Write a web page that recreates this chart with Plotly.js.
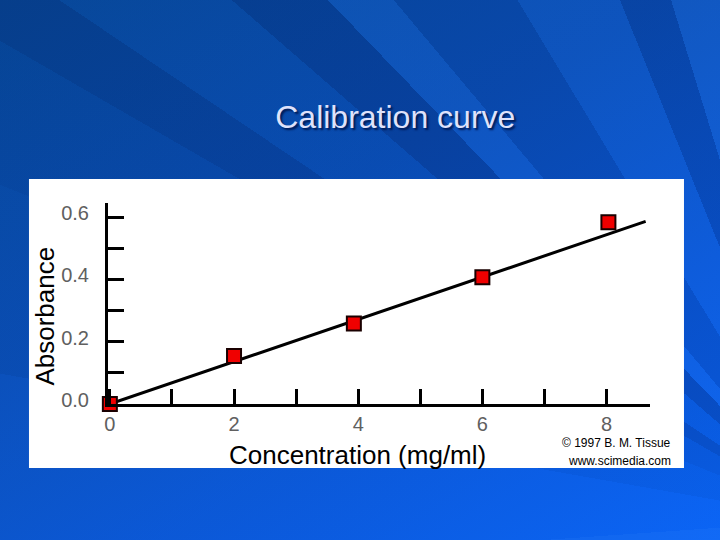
<!DOCTYPE html>
<html>
<head>
<meta charset="utf-8">
<script src="https://cdn.plot.ly/plotly-3.0.1.min.js"></script>
<style>
  html, body { margin: 0; padding: 0; }
  body {
    width: 720px; height: 540px; overflow: hidden;
    background:
      conic-gradient(at 830px 520px,
        rgba(0,0,0,0) 0deg 255deg,
        rgba(60,140,255,0.14) 255deg 266deg,
        rgba(30,110,255,0.06) 266deg 280deg,
        rgba(0,30,90,0.05) 280deg 292deg,
        rgba(0,20,80,0.10) 292deg 300deg,
        rgba(0,15,70,0.20) 300deg 304deg,
        rgba(0,30,90,0.06) 304deg 311deg,
        rgba(0,15,70,0.22) 311deg 316deg,
        rgba(60,140,255,0.10) 316deg 320deg,
        rgba(0,20,80,0.12) 320deg 329deg,
        rgba(60,140,255,0.08) 329deg 338deg,
        rgba(0,15,70,0.16) 338deg 343deg,
        rgba(80,160,255,0.10) 343deg 349deg,
        rgba(0,20,80,0.08) 349deg 355deg,
        rgba(60,140,255,0.10) 355deg 360deg),
      linear-gradient(150deg, #074a9c 0%, #0a4fb8 40%, #0a58d8 70%, #0a64f5 100%);
  }
  #chart { width: 720px; height: 540px; }
</style>
</head>
<body>
<div id="chart"></div>
<script>
// Data
const concentration = [0, 2, 3.93, 6, 8.03];
const absorbance = [0.0, 0.154, 0.258, 0.407, 0.583];
const fitX = [0, 8.63];
const fitY = [0.0, 0.586];

const xTickVals = [0, 1, 2, 3, 4, 5, 6, 7, 8];
const xTickText = ['0', '', '2', '', '4', '', '6', '', '8'];
const yTickVals = [0, 0.1, 0.2, 0.3, 0.4, 0.5, 0.6];
const yTickText = ['0.0', '', '0.2', '', '0.4', '', '0.6'];

const titleText = 'Calibration curve';
const xTitle = 'Concentration (mg/ml)';
const yTitle = 'Absorbance';
const credit1 = '\u00A9 1997 B. M. Tissue';
const credit2 = 'www.scimedia.com';

const FONT = 'Liberation Sans, Arial, Helvetica, sans-serif';

const traces = [
  {
    x: fitX, y: fitY, type: 'scatter', mode: 'lines',
    line: { color: '#000000', width: 3 },
    cliponaxis: false, hoverinfo: 'skip', showlegend: false
  },
  {
    x: concentration, y: absorbance, type: 'scatter', mode: 'markers',
    marker: { symbol: 'square', size: 14, color: '#f00000', line: { color: '#1a0000', width: 2 } },
    cliponaxis: false, showlegend: false
  }
];

const layout = {
  width: 720, height: 540,
  margin: { l: 108, r: 70, t: 203, b: 136 },
  paper_bgcolor: 'rgba(0,0,0,0)',
  plot_bgcolor: '#ffffff',
  showlegend: false,
  title: {
    text: titleText,
    x: 0.549, xref: 'container', xanchor: 'center',
    y: 0.783, yref: 'container', yanchor: 'middle',
    font: { family: FONT, size: 32, color: '#dfe2fb', shadow: '2px 2px 2px #001a55' }
  },
  xaxis: {
    range: [-0.03, 8.7],
    showgrid: false, zeroline: false,
    showline: true, linecolor: '#000', linewidth: 3,
    ticks: 'inside', ticklen: 15, tickwidth: 3, tickcolor: '#000',
    tickmode: 'array', tickvals: xTickVals, ticktext: xTickText,
    ticklabelstandoff: 0,
    tickfont: { family: FONT, size: 20, color: '#606060' },
    fixedrange: true
  },
  yaxis: {
    range: [0, 0.645],
    showgrid: false, zeroline: false,
    showline: true, linecolor: '#000', linewidth: 3,
    ticks: 'inside', ticklen: 16, tickwidth: 3, tickcolor: '#000',
    tickmode: 'array', tickvals: yTickVals, ticktext: yTickText,
    ticklabelstandoff: 12, ticklabelshift: -4,
    tickfont: { family: FONT, size: 20, color: '#606060' },
    fixedrange: true
  },
  shapes: [
    {
      type: 'rect', xref: 'paper', yref: 'paper', layer: 'below',
      x0: -0.1458, x1: 1.0627, y0: -0.318, y1: 1.119,
      fillcolor: '#ffffff', line: { width: 0 }
    }
  ],
  annotations: [
    {
      text: yTitle, xref: 'paper', yref: 'paper',
      x: -0.117, y: 0.438, xanchor: 'center', yanchor: 'middle',
      textangle: -90, showarrow: false,
      font: { family: FONT, size: 26, color: '#000' }
    },
    {
      text: xTitle, xref: 'paper', yref: 'paper',
      x: 0.461, y: -0.252, xanchor: 'center', yanchor: 'middle',
      showarrow: false,
      font: { family: FONT, size: 26, color: '#000' }
    },
    {
      text: credit1, xref: 'paper', yref: 'paper',
      x: (673 - 108) / 542, y: (404 - 443) / 201, xanchor: 'right', yanchor: 'middle',
      showarrow: false,
      font: { family: FONT, size: 12, color: '#000' }
    },
    {
      text: credit2, xref: 'paper', yref: 'paper',
      x: (673 - 108) / 542, y: (404 - 461) / 201, xanchor: 'right', yanchor: 'middle',
      showarrow: false,
      font: { family: FONT, size: 12, color: '#000' }
    }
  ]
};

Plotly.newPlot('chart', traces, layout, { staticPlot: true, displayModeBar: false });
</script>
</body>
</html>
